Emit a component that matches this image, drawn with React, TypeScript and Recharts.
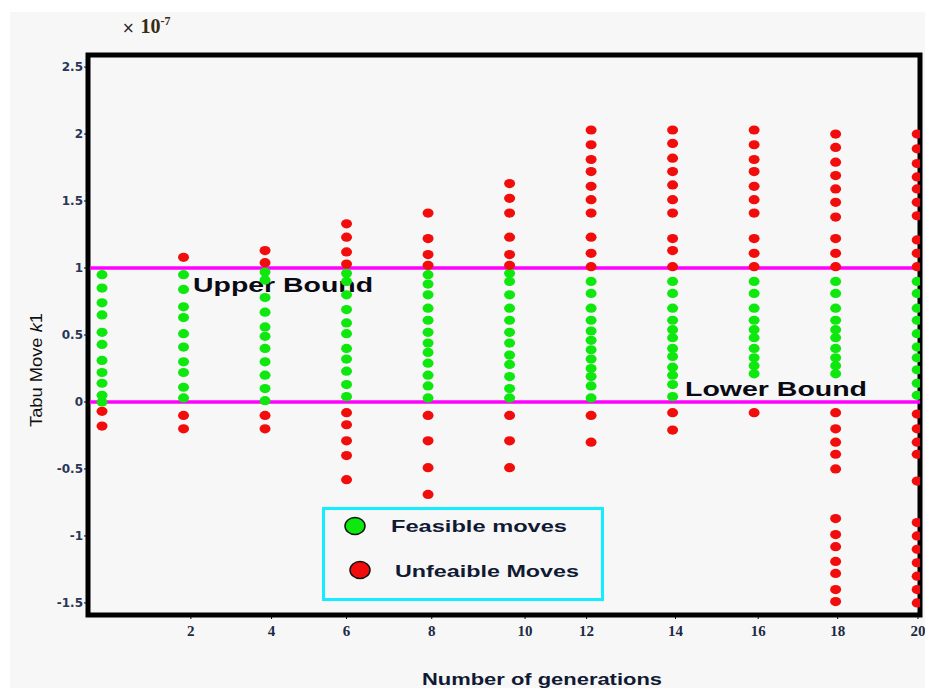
import { ScatterChart, Scatter, XAxis, YAxis, ReferenceLine, ReferenceArea } from "recharts";

// generations (x) for each column of moves
const GENERATIONS = [0, 2, 4, 6, 8, 10, 12, 14, 16, 18, 20];

// feasible moves per generation (values in units of 1e-7)
const FEASIBLE = [
  [0.95, 0.85, 0.74, 0.65, 0.52, 0.43, 0.31, 0.22, 0.14, 0.05, 0.0],
  [0.95, 0.84, 0.71, 0.63, 0.51, 0.41, 0.3, 0.22, 0.11, 0.03],
  [0.97, 0.91, 0.78, 0.67, 0.56, 0.49, 0.4, 0.3, 0.2, 0.1, 0.01],
  [0.96, 0.9, 0.8, 0.69, 0.59, 0.51, 0.4, 0.32, 0.23, 0.13, 0.04],
  [0.95, 0.88, 0.8, 0.7, 0.61, 0.52, 0.44, 0.37, 0.29, 0.2, 0.12, 0.03],
  [0.96, 0.9, 0.8, 0.7, 0.61, 0.52, 0.44, 0.35, 0.28, 0.19, 0.1, 0.03],
  [0.9, 0.81, 0.7, 0.61, 0.53, 0.46, 0.39, 0.32, 0.25, 0.19, 0.12, 0.03],
  [0.9, 0.81, 0.7, 0.61, 0.54, 0.48, 0.4, 0.34, 0.26, 0.2, 0.13, 0.04],
  [0.9, 0.81, 0.7, 0.61, 0.54, 0.48, 0.4, 0.33, 0.27, 0.21],
  [0.9, 0.81, 0.7, 0.61, 0.54, 0.48, 0.4, 0.33, 0.27, 0.21],
  [0.9, 0.81, 0.7, 0.61, 0.51, 0.41, 0.33, 0.24, 0.14, 0.05],
];

// unfeasible moves per generation
const UNFEASIBLE = [
  [-0.07, -0.18],
  [1.08, -0.1, -0.2],
  [1.13, 1.04, -0.1, -0.2],
  [1.33, 1.23, 1.12, 1.03, -0.08, -0.17, -0.29, -0.4, -0.58],
  [1.41, 1.22, 1.1, 1.02, -0.1, -0.29, -0.49, -0.69],
  [1.63, 1.52, 1.41, 1.23, 1.1, 1.02, -0.1, -0.29, -0.49],
  [2.03, 1.92, 1.81, 1.72, 1.61, 1.51, 1.41, 1.23, 1.11, 1.01, -0.1, -0.3],
  [2.03, 1.93, 1.82, 1.72, 1.62, 1.51, 1.41, 1.22, 1.13, 1.01, -0.08, -0.21],
  [2.03, 1.92, 1.81, 1.72, 1.61, 1.51, 1.41, 1.22, 1.11, 1.01, -0.08],
  [2.0, 1.9, 1.79, 1.69, 1.59, 1.49, 1.38, 1.22, 1.11, 1.01, -0.08, -0.2, -0.3, -0.39, -0.5, -0.87, -0.99, -1.08, -1.19, -1.28, -1.4, -1.49],
  [2.0, 1.89, 1.78, 1.68, 1.59, 1.49, 1.39, 1.21, 1.11, 1.01, -0.09, -0.2, -0.3, -0.39, -0.59, -0.9, -1.0, -1.1, -1.2, -1.3, -1.4, -1.5],
];

const Y_TICKS = [-1.5, -1, -0.5, 0, 0.5, 1, 1.5, 2, 2.5];
// the original tick marks sit slightly off the columns
const X_TICK_POS = [2.18, 4.16, 6.0, 8.09, 10.38, 11.89, 14.07, 16.1, 18.05, 20.02];
const X_TICK_LABELS = ["2", "4", "6", "8", "10", "12", "14", "16", "18", "20"];

const UPPER_BOUND = 1;
const LOWER_BOUND = 0;

const GREEN = "#0ee80e";
const RED = "#f20d0d";
const MAGENTA = "#ff00ff";
const SANS = "'Liberation Sans', Arial, sans-serif";

const X_DOMAIN: [number, number] = [-0.344, 20.07];
const Y_DOMAIN: [number, number] = [-1.59, 2.59];

const feasiblePts = GENERATIONS.flatMap((g, i) => FEASIBLE[i].map((v) => ({ x: g, y: v })));
const unfeasiblePts = GENERATIONS.flatMap((g, i) => UNFEASIBLE[i].map((v) => ({ x: g, y: v })));

const dot = (color: string) => (props: any) => (
  <ellipse cx={props.cx} cy={props.cy} rx={5.5} ry={4.6} fill={color} />
);

// the source figure is stretched sideways, so texts get a fixed length
function LegendBox() {
  return (
    <svg width={282} height={94} style={{ position: "absolute", left: 322, top: 507 }}>
      <rect x={1.5} y={1.5} width={279} height={91} fill="none" stroke="#14ecff" strokeWidth={3} />
      <ellipse cx={33} cy={19} rx={10} ry={8.5} fill={GREEN} stroke="#111" strokeWidth={1.5} />
      <ellipse cx={38} cy={63} rx={10} ry={8.5} fill={RED} stroke="#111" strokeWidth={1.5} />
      <text x={69} y={25} fontFamily={SANS} fontWeight="bold" fontSize={17} fill="#111a33" textLength={176} lengthAdjust="spacingAndGlyphs">
        Feasible moves
      </text>
      <text x={73} y={70} fontFamily={SANS} fontWeight="bold" fontSize={17} fill="#111a33" textLength={184} lengthAdjust="spacingAndGlyphs">
        Unfeaible Moves
      </text>
    </svg>
  );
}

export default function App() {
  return (
    <div style={{ position: "absolute", left: 0, top: 0, width: 925, height: 688, background: "#fff", overflow: "hidden" }}>
      <div style={{ position: "absolute", left: 10, top: 12, right: 0, bottom: 0, background: "#f7f7f7" }} />
      <div style={{ position: "absolute", left: 122, top: 14, whiteSpace: "nowrap" }}>
        <span style={{ fontFamily: "'DejaVu Sans', sans-serif", fontSize: 15, color: "#222" }}>×</span>
        <span style={{ fontFamily: "'Liberation Serif', serif", fontSize: 20, fontWeight: "bold", color: "#3a2a10", marginLeft: 6 }}>
          10<sup style={{ fontSize: 12 }}>-7</sup>
        </span>
      </div>
      <div style={{ position: "absolute", left: 0, top: 0 }}>
        <ScatterChart width={925} height={688} margin={{ top: 55, right: 5, bottom: 43, left: 48 }}>
          <XAxis
            type="number"
            dataKey="x"
            domain={X_DOMAIN}
            ticks={X_TICK_POS}
            tickFormatter={(v: number) => X_TICK_LABELS[X_TICK_POS.indexOf(v)] ?? ""}
            interval={0}
            height={30}
            allowDataOverflow
            axisLine={{ stroke: "#000", strokeWidth: 4 }}
            tickLine={{ stroke: "#000" }}
            tickSize={4}
            tickMargin={6}
            tick={{ fill: "#1d2a44", fontSize: 15, fontWeight: "bold", fontFamily: "'Liberation Serif', serif" }}
            label={{
              content: () => (
                <text x={542} y={685} textAnchor="middle" fontFamily={SANS} fontWeight="bold" fontSize={17} fill="#111a33" textLength={240} lengthAdjust="spacingAndGlyphs">
                  Number of generations
                </text>
              ),
            }}
          />
          <YAxis
            type="number"
            dataKey="y"
            domain={Y_DOMAIN}
            ticks={Y_TICKS}
            interval={0}
            width={40}
            allowDataOverflow
            axisLine={{ stroke: "#000", strokeWidth: 4 }}
            tickLine={{ stroke: "#000" }}
            tickSize={4}
            tickMargin={1}
            tick={{ fill: "#2a3656", fontSize: 12, fontWeight: "bold", fontFamily: "'DejaVu Sans', sans-serif" }}
            label={{
              content: () => (
                <text x={42} y={370} transform="rotate(-90 42 370)" textAnchor="middle" fontFamily={SANS} fontSize={17} fill="#111" textLength={114} lengthAdjust="spacingAndGlyphs">
                  Tabu Move <tspan fontStyle="italic">k</tspan>1
                </text>
              ),
            }}
          />
          <ReferenceArea x1={X_DOMAIN[0]} x2={X_DOMAIN[1]} y1={Y_DOMAIN[0]} y2={Y_DOMAIN[1]} fill="none" stroke="#000" strokeWidth={5} fillOpacity={0} />
          <Scatter name="Feasible moves" data={feasiblePts} shape={dot(GREEN)} isAnimationActive={false} />
          <Scatter name="Unfeaible Moves" data={unfeasiblePts} shape={dot(RED)} isAnimationActive={false} />
          <ReferenceLine
            y={UPPER_BOUND}
            stroke={MAGENTA}
            strokeWidth={3.5}
            label={{
              content: (p: any) => (
                <text x={p.viewBox.x + 105} y={p.viewBox.y + 24} fontFamily={SANS} fontWeight="bold" fontSize={20} fill="#0a0a14" textLength={180} lengthAdjust="spacingAndGlyphs">
                  Upper Bound
                </text>
              ),
            }}
          />
          <ReferenceLine
            y={LOWER_BOUND}
            stroke={MAGENTA}
            strokeWidth={3.5}
            label={{
              content: (p: any) => (
                <text x={p.viewBox.x + 597} y={p.viewBox.y - 6} fontFamily={SANS} fontWeight="bold" fontSize={20} fill="#0a0a14" textLength={182} lengthAdjust="spacingAndGlyphs">
                  Lower Bound
                </text>
              ),
            }}
          />
        </ScatterChart>
      </div>
      <LegendBox />
    </div>
  );
}
